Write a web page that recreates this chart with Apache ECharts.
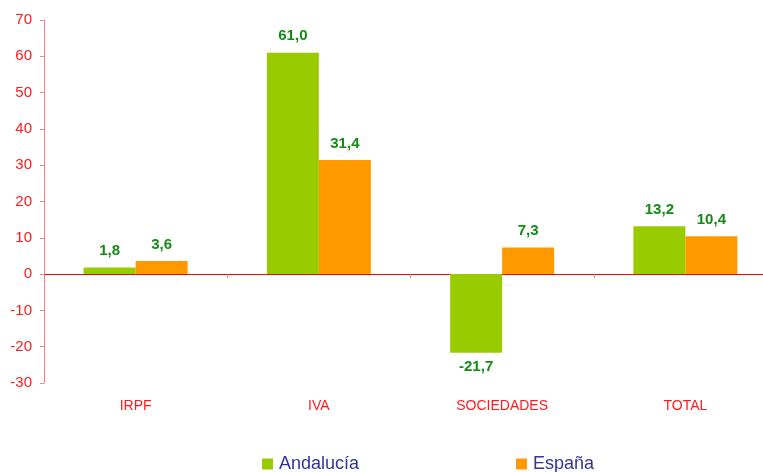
<!DOCTYPE html>
<html>
<head>
<meta charset="utf-8">
<script src="https://cdn.jsdelivr.net/npm/echarts@6/dist/echarts.min.js"></script>
<style>html,body{margin:0;padding:0;background:#fff;width:763px;height:472px;overflow:hidden}#c{width:777px;height:472px}</style>
</head>
<body>
<div id="c"></div>
<script>
const categories = ['IRPF', 'IVA', 'SOCIEDADES', 'TOTAL'];
const andalucia = [1.8, 61.0, -21.7, 13.2];
const espana = [3.6, 31.4, 7.3, 10.4];
const yTicks = { min: -30, max: 70, interval: 10 };

const fmt = p => p.value.toFixed(1).replace('.', ',');
const mk = arr => arr.map(v => ({
  value: v,
  label: { position: v < 0 ? 'bottom' : 'top', distance: v < 0 ? 6 : 9 }
}));
const labelStyle = {
  show: true, formatter: fmt, color: '#158a15', fontWeight: 'bold',
  fontSize: 15, fontFamily: 'Liberation Sans, Arial, sans-serif'
};

const chart = echarts.init(document.getElementById('c'));
chart.setOption({
  animation: false,
  textStyle: { fontFamily: 'Liberation Sans, Arial, sans-serif' },
  grid: { left: 44, top: 20, right: 0, bottom: 89, containLabel: false },
  legend: [
    { data: ['Andalucía'], left: 262, top: 455, padding: 0, icon: 'rect', itemWidth: 11, itemHeight: 11,
      textStyle: { color: '#333399', fontSize: 18, padding: [0, 0, 0, 1] } },
    { data: ['España'], left: 516, top: 455, padding: 0, icon: 'rect', itemWidth: 11, itemHeight: 11,
      textStyle: { color: '#333399', fontSize: 18, padding: [0, 0, 0, 1] } }
  ],
  xAxis: [
    { type: 'category', data: categories, position: 'bottom',
      axisLine: { show: false, onZero: false }, axisTick: { show: false },
      axisLabel: { color: '#ff1a1a', fontSize: 14, margin: 16 } },
    { type: 'category', data: categories, position: 'top',
      axisLine: { show: true, onZero: true, lineStyle: { color: '#ff0000', width: 1 } },
      axisTick: { show: true, inside: true, length: 4, lineStyle: { color: '#ff8080' } },
      axisLabel: { show: false } }
  ],
  yAxis: {
    type: 'value', min: yTicks.min, max: yTicks.max, interval: yTicks.interval,
    axisLine: { show: true, lineStyle: { color: '#ff8080', width: 1 } },
    axisTick: { show: true, length: 4, lineStyle: { color: '#ff8080' } },
    splitLine: { show: false },
    axisLabel: { color: '#ff1a1a', fontSize: 15, margin: 12 }
  },
  series: [
    { name: 'Andalucía', type: 'bar', data: mk(andalucia), barWidth: 52, barGap: 0,
      itemStyle: { color: '#99cc00' }, label: labelStyle },
    { name: 'España', type: 'bar', data: mk(espana), barWidth: 52, barGap: 0,
      itemStyle: { color: '#ff9900' }, label: labelStyle }
  ]
});
</script>
</body>
</html>
